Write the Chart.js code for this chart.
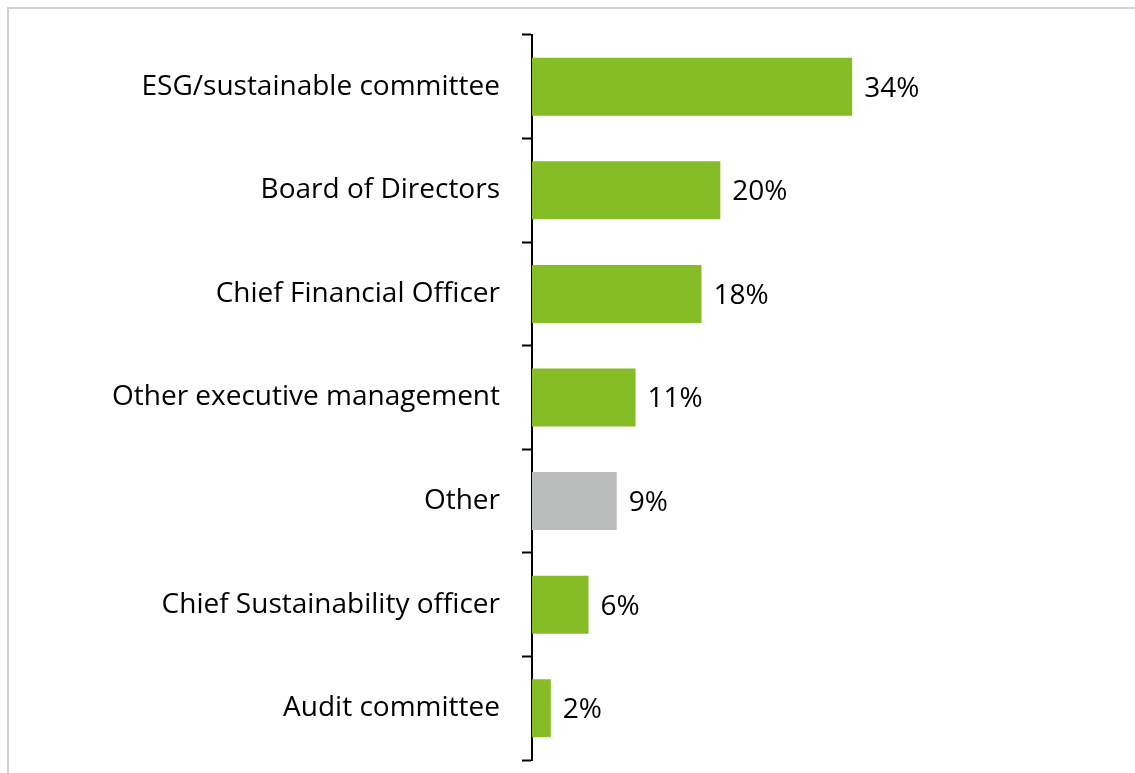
<!DOCTYPE html>
<html>
<head>
<meta charset="utf-8">
<script src="https://cdn.jsdelivr.net/npm/chart.js@4.4.1/dist/chart.umd.min.js"></script>
<style>
  html, body { margin: 0; padding: 0; background: #fff; overflow: hidden; }
  #wrap { position: relative; width: 1135px; height: 773px; }
  #frame { position: absolute; left: 7px; top: 7px; width: 2000px; height: 2000px; border: 2px solid #d2d2d2; }
  canvas { position: absolute; left: 0; top: 0; }
</style>
</head>
<body>
<div id="wrap">
  <div id="frame"></div>
  <canvas id="chartBar" width="1135" height="773"></canvas>
</div>
<script>
// Данные графика
const categories = [
  'ESG/sustainable committee',
  'Board of Directors',
  'Chief Financial Officer',
  'Other executive management',
  'Other',
  'Chief Sustainability officer',
  'Audit committee'
];
const values = [34, 20, 18, 11, 9, 6, 2];
const barColors = ['#86bc25', '#86bc25', '#86bc25', '#86bc25', '#bbbcbc', '#86bc25', '#86bc25'];

const labelFont = { family: '"Open Sans", Lato, sans-serif', size: 28 };

// Подписи значений справа от столбцов
const valueLabels = {
  id: 'valueLabels',
  afterDatasetsDraw(chart) {
    const ctx = chart.ctx;
    const meta = chart.getDatasetMeta(0);
    ctx.save();
    ctx.font = labelFont.size + 'px ' + labelFont.family;
    ctx.fillStyle = '#000';
    ctx.textAlign = 'left';
    ctx.textBaseline = 'middle';
    meta.data.forEach((bar, i) => {
      ctx.fillText(values[i] + '%', bar.x + 12, bar.y + 2);
    });
    ctx.restore();
  }
};

const cht = document.getElementById('chartBar');

new Chart(cht, {
  type: 'bar',
  data: {
    labels: categories,
    datasets: [{
      data: values,
      backgroundColor: barColors,
      borderWidth: 0,
      categoryPercentage: 1,
      barPercentage: 0.56
    }]
  },
  options: {
    indexAxis: 'y',
    responsive: false,
    animation: false,
    layout: { padding: { left: 0, right: 38, top: 35, bottom: 13 } },
    plugins: {
      legend: { display: false },
      title: { display: false },
      tooltip: { enabled: false }
    },
    scales: {
      x: {
        display: false,
        min: 0,
        max: 60
      },
      y: {
        afterFit(scale) {
          // фиксированная ширина оси и без авто-отступов сверху/снизу
          scale.width = 532;
          scale.paddingTop = 0;
          scale.paddingBottom = 0;
        },
        border: { display: true, color: '#000', width: 2 },
        grid: {
          offset: true,
          drawOnChartArea: false,
          drawTicks: true,
          tickLength: 10,
          tickWidth: 2,
          color: '#000'
        },
        ticks: {
          color: '#000',
          padding: 22,
          font: labelFont
        }
      }
    }
  },
  plugins: [valueLabels]
});
</script>
</body>
</html>
